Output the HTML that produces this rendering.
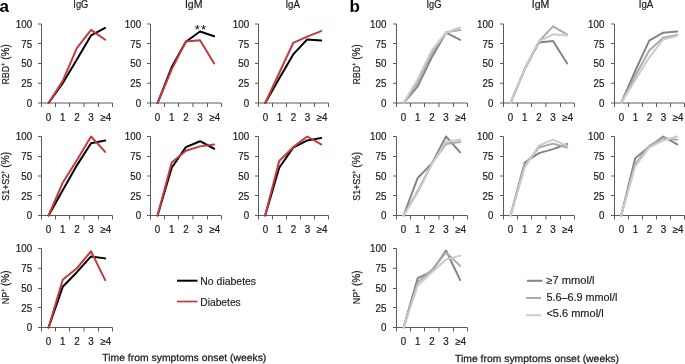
<!DOCTYPE html>
<html><head><meta charset="utf-8"><style>
html,body{margin:0;padding:0;background:#fff;width:685px;height:364px;overflow:hidden;position:relative}
svg{display:block;position:absolute;left:0;top:0}
#t{filter:grayscale(1)}
</style></head><body>
<svg id="l" width="685" height="364" viewBox="0 0 685 364"><g stroke="#5a5a5a" stroke-width="1" fill="none"><path d="M41.5 24.0V107.0" /><path d="M38.0 24.0H41.5" /><path d="M38.0 43.5H41.5" /><path d="M38.0 63.5H41.5" /><path d="M38.0 83.25H41.5" /><path d="M38.0 103.0H112.25" /><path d="M55.5 103.0V107.0" /><path d="M69.5 103.0V107.0" /><path d="M83.95 103.0V107.0" /><path d="M98.5 103.0V107.0" /><path d="M112.5 103.0V107.0" /><path d="M150.5 24.0V107.0" /><path d="M147.0 24.0H150.5" /><path d="M147.0 43.5H150.5" /><path d="M147.0 63.5H150.5" /><path d="M147.0 83.25H150.5" /><path d="M147.0 103.0H221.25" /><path d="M164.5 103.0V107.0" /><path d="M178.5 103.0V107.0" /><path d="M192.95 103.0V107.0" /><path d="M207.5 103.0V107.0" /><path d="M221.5 103.0V107.0" /><path d="M258.5 24.0V107.0" /><path d="M255.0 24.0H258.5" /><path d="M255.0 43.5H258.5" /><path d="M255.0 63.5H258.5" /><path d="M255.0 83.25H258.5" /><path d="M255.0 103.0H328.5" /><path d="M272.5 103.0V107.0" /><path d="M286.5 103.0V107.0" /><path d="M300.5 103.0V107.0" /><path d="M314.5 103.0V107.0" /><path d="M328.5 103.0V107.0" /><path d="M41.5 136.5V219.5" /><path d="M38.0 136.5H41.5" /><path d="M38.0 156.5H41.5" /><path d="M38.0 176.0H41.5" /><path d="M38.0 195.5H41.5" /><path d="M38.0 215.5H112.25" /><path d="M55.5 215.5V219.5" /><path d="M69.5 215.5V219.5" /><path d="M83.95 215.5V219.5" /><path d="M98.5 215.5V219.5" /><path d="M112.5 215.5V219.5" /><path d="M150.5 136.5V219.5" /><path d="M147.0 136.5H150.5" /><path d="M147.0 156.5H150.5" /><path d="M147.0 176.0H150.5" /><path d="M147.0 195.5H150.5" /><path d="M147.0 215.5H221.25" /><path d="M164.5 215.5V219.5" /><path d="M178.5 215.5V219.5" /><path d="M192.95 215.5V219.5" /><path d="M207.5 215.5V219.5" /><path d="M221.5 215.5V219.5" /><path d="M258.5 136.5V219.5" /><path d="M255.0 136.5H258.5" /><path d="M255.0 156.5H258.5" /><path d="M255.0 176.0H258.5" /><path d="M255.0 195.5H258.5" /><path d="M255.0 215.5H328.5" /><path d="M272.5 215.5V219.5" /><path d="M286.5 215.5V219.5" /><path d="M300.5 215.5V219.5" /><path d="M314.5 215.5V219.5" /><path d="M328.5 215.5V219.5" /><path d="M41.5 248.5V331.5" /><path d="M38.0 248.5H41.5" /><path d="M38.0 268.25H41.5" /><path d="M38.0 288.5H41.5" /><path d="M38.0 307.5H41.5" /><path d="M38.0 327.5H112.25" /><path d="M55.5 327.5V331.5" /><path d="M69.5 327.5V331.5" /><path d="M83.95 327.5V331.5" /><path d="M98.5 327.5V331.5" /><path d="M112.5 327.5V331.5" /><path d="M396.5 24.0V107.0" /><path d="M393.0 24.0H396.5" /><path d="M393.0 43.5H396.5" /><path d="M393.0 63.5H396.5" /><path d="M393.0 83.25H396.5" /><path d="M393.0 103.0H467.25" /><path d="M410.5 103.0V107.0" /><path d="M424.5 103.0V107.0" /><path d="M438.95 103.0V107.0" /><path d="M453.5 103.0V107.0" /><path d="M467.5 103.0V107.0" /><path d="M503.5 24.0V107.0" /><path d="M500.0 24.0H503.5" /><path d="M500.0 43.5H503.5" /><path d="M500.0 63.5H503.5" /><path d="M500.0 83.25H503.5" /><path d="M500.0 103.0H574.25" /><path d="M517.5 103.0V107.0" /><path d="M531.5 103.0V107.0" /><path d="M545.95 103.0V107.0" /><path d="M560.5 103.0V107.0" /><path d="M574.5 103.0V107.0" /><path d="M614.5 24.0V107.0" /><path d="M611.0 24.0H614.5" /><path d="M611.0 43.5H614.5" /><path d="M611.0 63.5H614.5" /><path d="M611.0 83.25H614.5" /><path d="M611.0 103.0H684.5" /><path d="M628.5 103.0V107.0" /><path d="M642.5 103.0V107.0" /><path d="M656.5 103.0V107.0" /><path d="M670.5 103.0V107.0" /><path d="M684.5 103.0V107.0" /><path d="M396.5 136.5V219.5" /><path d="M393.0 136.5H396.5" /><path d="M393.0 156.5H396.5" /><path d="M393.0 176.0H396.5" /><path d="M393.0 195.5H396.5" /><path d="M393.0 215.5H467.25" /><path d="M410.5 215.5V219.5" /><path d="M424.5 215.5V219.5" /><path d="M438.95 215.5V219.5" /><path d="M453.5 215.5V219.5" /><path d="M467.5 215.5V219.5" /><path d="M503.5 136.5V219.5" /><path d="M500.0 136.5H503.5" /><path d="M500.0 156.5H503.5" /><path d="M500.0 176.0H503.5" /><path d="M500.0 195.5H503.5" /><path d="M500.0 215.5H574.25" /><path d="M517.5 215.5V219.5" /><path d="M531.5 215.5V219.5" /><path d="M545.95 215.5V219.5" /><path d="M560.5 215.5V219.5" /><path d="M574.5 215.5V219.5" /><path d="M614.5 136.5V219.5" /><path d="M611.0 136.5H614.5" /><path d="M611.0 156.5H614.5" /><path d="M611.0 176.0H614.5" /><path d="M611.0 195.5H614.5" /><path d="M611.0 215.5H684.5" /><path d="M628.5 215.5V219.5" /><path d="M642.5 215.5V219.5" /><path d="M656.5 215.5V219.5" /><path d="M670.5 215.5V219.5" /><path d="M684.5 215.5V219.5" /><path d="M396.5 248.5V331.5" /><path d="M393.0 248.5H396.5" /><path d="M393.0 268.25H396.5" /><path d="M393.0 288.5H396.5" /><path d="M393.0 307.5H396.5" /><path d="M393.0 327.5H467.25" /><path d="M410.5 327.5V331.5" /><path d="M424.5 327.5V331.5" /><path d="M438.95 327.5V331.5" /><path d="M453.5 327.5V331.5" /><path d="M467.5 327.5V331.5" /></g><polyline points="48.58,103.00 62.73,83.25 76.88,59.55 91.03,35.45 105.18,27.95" fill="none" stroke="#000000" stroke-width="2" stroke-linejoin="round" stroke-linecap="round" /><polyline points="48.58,103.00 62.73,80.88 76.88,48.09 91.03,29.92 105.18,39.80" fill="none" stroke="#c43a3e" stroke-width="2" stroke-linejoin="round" stroke-linecap="round" /><polyline points="157.57,103.00 171.72,67.06 185.88,41.77 200.03,31.50 214.18,36.25" fill="none" stroke="#000000" stroke-width="2" stroke-linejoin="round" stroke-linecap="round" /><polyline points="157.57,103.00 171.72,69.42 185.88,41.38 200.03,40.20 214.18,63.50" fill="none" stroke="#c43a3e" stroke-width="2" stroke-linejoin="round" stroke-linecap="round" /><polyline points="265.20,103.00 279.20,78.51 293.20,54.41 307.20,39.41 321.20,40.59" fill="none" stroke="#000000" stroke-width="2" stroke-linejoin="round" stroke-linecap="round" /><polyline points="265.20,103.00 279.20,72.98 293.20,42.96 307.20,36.64 321.20,31.11" fill="none" stroke="#c43a3e" stroke-width="2" stroke-linejoin="round" stroke-linecap="round" /><polyline points="48.58,215.50 62.73,190.22 76.88,165.34 91.03,143.22 105.18,140.45" fill="none" stroke="#000000" stroke-width="2" stroke-linejoin="round" stroke-linecap="round" /><polyline points="48.58,215.50 62.73,182.72 76.88,160.20 91.03,136.50 105.18,151.91" fill="none" stroke="#c43a3e" stroke-width="2" stroke-linejoin="round" stroke-linecap="round" /><polyline points="157.57,215.50 171.72,167.70 185.88,147.17 200.03,141.24 214.18,148.75" fill="none" stroke="#000000" stroke-width="2" stroke-linejoin="round" stroke-linecap="round" /><polyline points="157.57,215.50 171.72,162.57 185.88,150.72 200.03,146.38 214.18,144.40" fill="none" stroke="#c43a3e" stroke-width="2" stroke-linejoin="round" stroke-linecap="round" /><polyline points="265.20,215.50 279.20,167.70 293.20,147.56 307.20,140.45 321.20,138.08" fill="none" stroke="#000000" stroke-width="2" stroke-linejoin="round" stroke-linecap="round" /><polyline points="265.20,215.50 279.20,160.99 293.20,147.17 307.20,136.50 321.20,144.40" fill="none" stroke="#c43a3e" stroke-width="2" stroke-linejoin="round" stroke-linecap="round" /><polyline points="48.58,327.50 62.73,286.81 76.88,272.20 91.03,256.40 105.18,258.38" fill="none" stroke="#000000" stroke-width="2" stroke-linejoin="round" stroke-linecap="round" /><polyline points="48.58,327.50 62.73,279.70 76.88,268.25 91.03,251.26 105.18,280.10" fill="none" stroke="#c43a3e" stroke-width="2" stroke-linejoin="round" stroke-linecap="round" /><polyline points="403.57,103.00 417.73,86.41 431.88,57.18 446.02,32.69 460.18,39.80" fill="none" stroke="#848484" stroke-width="2" stroke-linejoin="round" stroke-linecap="round" /><polyline points="403.57,103.00 417.73,82.46 431.88,53.23 446.02,32.30 460.18,29.92" fill="none" stroke="#aaaaaa" stroke-width="2" stroke-linejoin="round" stroke-linecap="round" /><polyline points="403.57,103.00 417.73,79.30 431.88,50.07 446.02,32.69 460.18,27.56" fill="none" stroke="#cbcbcb" stroke-width="2" stroke-linejoin="round" stroke-linecap="round" /><polyline points="510.57,103.00 524.73,69.03 538.88,42.56 553.02,40.98 567.17,63.50" fill="none" stroke="#848484" stroke-width="2" stroke-linejoin="round" stroke-linecap="round" /><polyline points="510.57,103.00 524.73,69.03 538.88,41.38 553.02,26.37 567.17,34.67" fill="none" stroke="#aaaaaa" stroke-width="2" stroke-linejoin="round" stroke-linecap="round" /><polyline points="510.57,103.00 524.73,68.63 538.88,41.38 553.02,34.27 567.17,35.45" fill="none" stroke="#cbcbcb" stroke-width="2" stroke-linejoin="round" stroke-linecap="round" /><polyline points="621.20,103.00 635.20,71.00 649.20,40.59 663.20,32.69 677.20,31.50" fill="none" stroke="#848484" stroke-width="2" stroke-linejoin="round" stroke-linecap="round" /><polyline points="621.20,103.00 635.20,76.14 649.20,50.47 663.20,37.83 677.20,35.06" fill="none" stroke="#aaaaaa" stroke-width="2" stroke-linejoin="round" stroke-linecap="round" /><polyline points="621.20,103.00 635.20,80.09 649.20,57.58 663.20,39.41 677.20,35.85" fill="none" stroke="#cbcbcb" stroke-width="2" stroke-linejoin="round" stroke-linecap="round" /><polyline points="403.57,215.50 417.73,177.97 431.88,163.36 446.02,136.50 460.18,152.30" fill="none" stroke="#848484" stroke-width="2" stroke-linejoin="round" stroke-linecap="round" /><polyline points="403.57,215.50 417.73,191.01 431.88,163.36 446.02,144.00 460.18,142.03" fill="none" stroke="#aaaaaa" stroke-width="2" stroke-linejoin="round" stroke-linecap="round" /><polyline points="403.57,215.50 417.73,192.59 431.88,164.15 446.02,141.63 460.18,139.66" fill="none" stroke="#cbcbcb" stroke-width="2" stroke-linejoin="round" stroke-linecap="round" /><polyline points="510.57,215.50 524.73,162.57 538.88,153.09 553.02,149.14 567.17,144.00" fill="none" stroke="#848484" stroke-width="2" stroke-linejoin="round" stroke-linecap="round" /><polyline points="510.57,215.50 524.73,164.94 538.88,147.56 553.02,143.61 567.17,147.56" fill="none" stroke="#aaaaaa" stroke-width="2" stroke-linejoin="round" stroke-linecap="round" /><polyline points="510.57,215.50 524.73,167.70 538.88,145.58 553.02,139.66 567.17,145.98" fill="none" stroke="#cbcbcb" stroke-width="2" stroke-linejoin="round" stroke-linecap="round" /><polyline points="621.20,215.50 635.20,158.22 649.20,146.77 663.20,136.50 677.20,144.40" fill="none" stroke="#848484" stroke-width="2" stroke-linejoin="round" stroke-linecap="round" /><polyline points="621.20,215.50 635.20,164.15 649.20,145.98 663.20,138.08 677.20,139.66" fill="none" stroke="#aaaaaa" stroke-width="2" stroke-linejoin="round" stroke-linecap="round" /><polyline points="621.20,215.50 635.20,166.12 649.20,147.56 663.20,140.45 677.20,136.50" fill="none" stroke="#cbcbcb" stroke-width="2" stroke-linejoin="round" stroke-linecap="round" /><polyline points="403.57,327.50 417.73,278.12 431.88,271.41 446.02,250.47 460.18,280.10" fill="none" stroke="#848484" stroke-width="2" stroke-linejoin="round" stroke-linecap="round" /><polyline points="403.57,327.50 417.73,282.47 431.88,269.83 446.02,252.45 460.18,265.88" fill="none" stroke="#aaaaaa" stroke-width="2" stroke-linejoin="round" stroke-linecap="round" /><polyline points="403.57,327.50 417.73,285.63 431.88,272.20 446.02,259.56 460.18,255.61" fill="none" stroke="#cbcbcb" stroke-width="2" stroke-linejoin="round" stroke-linecap="round" /><path d="M177 280.7H197.5" stroke="#000" stroke-width="2"/><path d="M177 301.5H197.5" stroke="#c43a3e" stroke-width="1.75"/><path d="M527 280.8H542.5" stroke="#848484" stroke-width="2"/><path d="M526 298H541" stroke="#aaaaaa" stroke-width="2"/><path d="M526 315.2H541" stroke="#cbcbcb" stroke-width="2"/></svg>
<svg id="t" width="685" height="364" viewBox="0 0 685 364"><g font-family='"Liberation Sans", sans-serif' font-size="10.2" fill="#1a1a1a" stroke="#1a1a1a" stroke-width="0.2"><text transform="translate(32.10 27.90) scale(0.96 1)" text-anchor="end">100</text><text transform="translate(32.10 47.65) scale(0.96 1)" text-anchor="end">75</text><text transform="translate(32.10 67.40) scale(0.96 1)" text-anchor="end">50</text><text transform="translate(32.10 87.15) scale(0.96 1)" text-anchor="end">25</text><text transform="translate(32.10 106.90) scale(0.96 1)" text-anchor="end">0</text><text transform="translate(48.58 120.60) scale(0.96 1)" text-anchor="middle">0</text><text transform="translate(62.73 120.60) scale(0.96 1)" text-anchor="middle">1</text><text transform="translate(76.88 120.60) scale(0.96 1)" text-anchor="middle">2</text><text transform="translate(91.03 120.60) scale(0.96 1)" text-anchor="middle">3</text><text transform="translate(105.78 120.60) scale(0.96 1)" text-anchor="middle">≥4</text><text transform="translate(141.10 27.90) scale(0.96 1)" text-anchor="end">100</text><text transform="translate(141.10 47.65) scale(0.96 1)" text-anchor="end">75</text><text transform="translate(141.10 67.40) scale(0.96 1)" text-anchor="end">50</text><text transform="translate(141.10 87.15) scale(0.96 1)" text-anchor="end">25</text><text transform="translate(141.10 106.90) scale(0.96 1)" text-anchor="end">0</text><text transform="translate(157.57 120.60) scale(0.96 1)" text-anchor="middle">0</text><text transform="translate(171.72 120.60) scale(0.96 1)" text-anchor="middle">1</text><text transform="translate(185.88 120.60) scale(0.96 1)" text-anchor="middle">2</text><text transform="translate(200.03 120.60) scale(0.96 1)" text-anchor="middle">3</text><text transform="translate(214.78 120.60) scale(0.96 1)" text-anchor="middle">≥4</text><text transform="translate(249.10 27.90) scale(0.96 1)" text-anchor="end">100</text><text transform="translate(249.10 47.65) scale(0.96 1)" text-anchor="end">75</text><text transform="translate(249.10 67.40) scale(0.96 1)" text-anchor="end">50</text><text transform="translate(249.10 87.15) scale(0.96 1)" text-anchor="end">25</text><text transform="translate(249.10 106.90) scale(0.96 1)" text-anchor="end">0</text><text transform="translate(265.50 120.60) scale(0.96 1)" text-anchor="middle">0</text><text transform="translate(279.50 120.60) scale(0.96 1)" text-anchor="middle">1</text><text transform="translate(293.50 120.60) scale(0.96 1)" text-anchor="middle">2</text><text transform="translate(307.50 120.60) scale(0.96 1)" text-anchor="middle">3</text><text transform="translate(322.10 120.60) scale(0.96 1)" text-anchor="middle">≥4</text><text transform="translate(32.10 140.40) scale(0.96 1)" text-anchor="end">100</text><text transform="translate(32.10 160.15) scale(0.96 1)" text-anchor="end">75</text><text transform="translate(32.10 179.90) scale(0.96 1)" text-anchor="end">50</text><text transform="translate(32.10 199.65) scale(0.96 1)" text-anchor="end">25</text><text transform="translate(32.10 219.40) scale(0.96 1)" text-anchor="end">0</text><text transform="translate(48.58 233.10) scale(0.96 1)" text-anchor="middle">0</text><text transform="translate(62.73 233.10) scale(0.96 1)" text-anchor="middle">1</text><text transform="translate(76.88 233.10) scale(0.96 1)" text-anchor="middle">2</text><text transform="translate(91.03 233.10) scale(0.96 1)" text-anchor="middle">3</text><text transform="translate(105.78 233.10) scale(0.96 1)" text-anchor="middle">≥4</text><text transform="translate(141.10 140.40) scale(0.96 1)" text-anchor="end">100</text><text transform="translate(141.10 160.15) scale(0.96 1)" text-anchor="end">75</text><text transform="translate(141.10 179.90) scale(0.96 1)" text-anchor="end">50</text><text transform="translate(141.10 199.65) scale(0.96 1)" text-anchor="end">25</text><text transform="translate(141.10 219.40) scale(0.96 1)" text-anchor="end">0</text><text transform="translate(157.57 233.10) scale(0.96 1)" text-anchor="middle">0</text><text transform="translate(171.72 233.10) scale(0.96 1)" text-anchor="middle">1</text><text transform="translate(185.88 233.10) scale(0.96 1)" text-anchor="middle">2</text><text transform="translate(200.03 233.10) scale(0.96 1)" text-anchor="middle">3</text><text transform="translate(214.78 233.10) scale(0.96 1)" text-anchor="middle">≥4</text><text transform="translate(249.10 140.40) scale(0.96 1)" text-anchor="end">100</text><text transform="translate(249.10 160.15) scale(0.96 1)" text-anchor="end">75</text><text transform="translate(249.10 179.90) scale(0.96 1)" text-anchor="end">50</text><text transform="translate(249.10 199.65) scale(0.96 1)" text-anchor="end">25</text><text transform="translate(249.10 219.40) scale(0.96 1)" text-anchor="end">0</text><text transform="translate(265.50 233.10) scale(0.96 1)" text-anchor="middle">0</text><text transform="translate(279.50 233.10) scale(0.96 1)" text-anchor="middle">1</text><text transform="translate(293.50 233.10) scale(0.96 1)" text-anchor="middle">2</text><text transform="translate(307.50 233.10) scale(0.96 1)" text-anchor="middle">3</text><text transform="translate(322.10 233.10) scale(0.96 1)" text-anchor="middle">≥4</text><text transform="translate(32.10 252.40) scale(0.96 1)" text-anchor="end">100</text><text transform="translate(32.10 272.15) scale(0.96 1)" text-anchor="end">75</text><text transform="translate(32.10 291.90) scale(0.96 1)" text-anchor="end">50</text><text transform="translate(32.10 311.65) scale(0.96 1)" text-anchor="end">25</text><text transform="translate(32.10 331.40) scale(0.96 1)" text-anchor="end">0</text><text transform="translate(48.58 345.10) scale(0.96 1)" text-anchor="middle">0</text><text transform="translate(62.73 345.10) scale(0.96 1)" text-anchor="middle">1</text><text transform="translate(76.88 345.10) scale(0.96 1)" text-anchor="middle">2</text><text transform="translate(91.03 345.10) scale(0.96 1)" text-anchor="middle">3</text><text transform="translate(105.78 345.10) scale(0.96 1)" text-anchor="middle">≥4</text><text transform="translate(386.40 27.90) scale(0.96 1)" text-anchor="end">100</text><text transform="translate(386.40 47.65) scale(0.96 1)" text-anchor="end">75</text><text transform="translate(386.40 67.40) scale(0.96 1)" text-anchor="end">50</text><text transform="translate(386.40 87.15) scale(0.96 1)" text-anchor="end">25</text><text transform="translate(386.40 106.90) scale(0.96 1)" text-anchor="end">0</text><text transform="translate(403.57 120.60) scale(0.96 1)" text-anchor="middle">0</text><text transform="translate(417.73 120.60) scale(0.96 1)" text-anchor="middle">1</text><text transform="translate(431.88 120.60) scale(0.96 1)" text-anchor="middle">2</text><text transform="translate(446.02 120.60) scale(0.96 1)" text-anchor="middle">3</text><text transform="translate(460.78 120.60) scale(0.96 1)" text-anchor="middle">≥4</text><text transform="translate(493.40 27.90) scale(0.96 1)" text-anchor="end">100</text><text transform="translate(493.40 47.65) scale(0.96 1)" text-anchor="end">75</text><text transform="translate(493.40 67.40) scale(0.96 1)" text-anchor="end">50</text><text transform="translate(493.40 87.15) scale(0.96 1)" text-anchor="end">25</text><text transform="translate(493.40 106.90) scale(0.96 1)" text-anchor="end">0</text><text transform="translate(510.57 120.60) scale(0.96 1)" text-anchor="middle">0</text><text transform="translate(524.73 120.60) scale(0.96 1)" text-anchor="middle">1</text><text transform="translate(538.88 120.60) scale(0.96 1)" text-anchor="middle">2</text><text transform="translate(553.02 120.60) scale(0.96 1)" text-anchor="middle">3</text><text transform="translate(567.77 120.60) scale(0.96 1)" text-anchor="middle">≥4</text><text transform="translate(604.40 27.90) scale(0.96 1)" text-anchor="end">100</text><text transform="translate(604.40 47.65) scale(0.96 1)" text-anchor="end">75</text><text transform="translate(604.40 67.40) scale(0.96 1)" text-anchor="end">50</text><text transform="translate(604.40 87.15) scale(0.96 1)" text-anchor="end">25</text><text transform="translate(604.40 106.90) scale(0.96 1)" text-anchor="end">0</text><text transform="translate(621.50 120.60) scale(0.96 1)" text-anchor="middle">0</text><text transform="translate(635.50 120.60) scale(0.96 1)" text-anchor="middle">1</text><text transform="translate(649.50 120.60) scale(0.96 1)" text-anchor="middle">2</text><text transform="translate(663.50 120.60) scale(0.96 1)" text-anchor="middle">3</text><text transform="translate(678.10 120.60) scale(0.96 1)" text-anchor="middle">≥4</text><text transform="translate(386.40 140.40) scale(0.96 1)" text-anchor="end">100</text><text transform="translate(386.40 160.15) scale(0.96 1)" text-anchor="end">75</text><text transform="translate(386.40 179.90) scale(0.96 1)" text-anchor="end">50</text><text transform="translate(386.40 199.65) scale(0.96 1)" text-anchor="end">25</text><text transform="translate(386.40 219.40) scale(0.96 1)" text-anchor="end">0</text><text transform="translate(403.57 233.10) scale(0.96 1)" text-anchor="middle">0</text><text transform="translate(417.73 233.10) scale(0.96 1)" text-anchor="middle">1</text><text transform="translate(431.88 233.10) scale(0.96 1)" text-anchor="middle">2</text><text transform="translate(446.02 233.10) scale(0.96 1)" text-anchor="middle">3</text><text transform="translate(460.78 233.10) scale(0.96 1)" text-anchor="middle">≥4</text><text transform="translate(493.40 140.40) scale(0.96 1)" text-anchor="end">100</text><text transform="translate(493.40 160.15) scale(0.96 1)" text-anchor="end">75</text><text transform="translate(493.40 179.90) scale(0.96 1)" text-anchor="end">50</text><text transform="translate(493.40 199.65) scale(0.96 1)" text-anchor="end">25</text><text transform="translate(493.40 219.40) scale(0.96 1)" text-anchor="end">0</text><text transform="translate(510.57 233.10) scale(0.96 1)" text-anchor="middle">0</text><text transform="translate(524.73 233.10) scale(0.96 1)" text-anchor="middle">1</text><text transform="translate(538.88 233.10) scale(0.96 1)" text-anchor="middle">2</text><text transform="translate(553.02 233.10) scale(0.96 1)" text-anchor="middle">3</text><text transform="translate(567.77 233.10) scale(0.96 1)" text-anchor="middle">≥4</text><text transform="translate(604.40 140.40) scale(0.96 1)" text-anchor="end">100</text><text transform="translate(604.40 160.15) scale(0.96 1)" text-anchor="end">75</text><text transform="translate(604.40 179.90) scale(0.96 1)" text-anchor="end">50</text><text transform="translate(604.40 199.65) scale(0.96 1)" text-anchor="end">25</text><text transform="translate(604.40 219.40) scale(0.96 1)" text-anchor="end">0</text><text transform="translate(621.50 233.10) scale(0.96 1)" text-anchor="middle">0</text><text transform="translate(635.50 233.10) scale(0.96 1)" text-anchor="middle">1</text><text transform="translate(649.50 233.10) scale(0.96 1)" text-anchor="middle">2</text><text transform="translate(663.50 233.10) scale(0.96 1)" text-anchor="middle">3</text><text transform="translate(678.10 233.10) scale(0.96 1)" text-anchor="middle">≥4</text><text transform="translate(386.40 252.40) scale(0.96 1)" text-anchor="end">100</text><text transform="translate(386.40 272.15) scale(0.96 1)" text-anchor="end">75</text><text transform="translate(386.40 291.90) scale(0.96 1)" text-anchor="end">50</text><text transform="translate(386.40 311.65) scale(0.96 1)" text-anchor="end">25</text><text transform="translate(386.40 331.40) scale(0.96 1)" text-anchor="end">0</text><text transform="translate(403.57 345.10) scale(0.96 1)" text-anchor="middle">0</text><text transform="translate(417.73 345.10) scale(0.96 1)" text-anchor="middle">1</text><text transform="translate(431.88 345.10) scale(0.96 1)" text-anchor="middle">2</text><text transform="translate(446.02 345.10) scale(0.96 1)" text-anchor="middle">3</text><text transform="translate(460.78 345.10) scale(0.96 1)" text-anchor="middle">≥4</text></g><g font-family='"Liberation Sans", sans-serif' font-size="10" fill="#1a1a1a" stroke="#1a1a1a" stroke-width="0.2"><text x="80.85" y="7.6" text-anchor="middle" font-size="10" textLength="15.0" lengthAdjust="spacingAndGlyphs">IgG</text><text x="193.65" y="7.6" text-anchor="middle" font-size="10" textLength="17.5" lengthAdjust="spacingAndGlyphs">IgM</text><text x="292.7" y="7.6" text-anchor="middle" font-size="10" textLength="14.5" lengthAdjust="spacingAndGlyphs">IgA</text><text x="433.9" y="7.6" text-anchor="middle" font-size="10" textLength="15.0" lengthAdjust="spacingAndGlyphs">IgG</text><text x="540.5" y="7.6" text-anchor="middle" font-size="10" textLength="17.5" lengthAdjust="spacingAndGlyphs">IgM</text><text x="646.05" y="7.6" text-anchor="middle" font-size="10" textLength="14.5" lengthAdjust="spacingAndGlyphs">IgA</text><text font-size="10" text-rendering="geometricPrecision" transform="translate(8.8 64.40) rotate(-90)" text-anchor="middle" textLength="40.4" lengthAdjust="spacingAndGlyphs">RBD<tspan font-size="6" dy="-3.6">+</tspan><tspan dy="3.6" font-size="11.3"> (%)</tspan></text><text font-size="10" text-rendering="geometricPrecision" transform="translate(8.8 176.40) rotate(-90)" text-anchor="middle" textLength="48.9" lengthAdjust="spacingAndGlyphs">S1+S2<tspan font-size="6" dy="-3.6">+</tspan><tspan dy="3.6" font-size="11.3"> (%)</tspan></text><text font-size="10" text-rendering="geometricPrecision" transform="translate(8.8 287.30) rotate(-90)" text-anchor="middle" textLength="33.8" lengthAdjust="spacingAndGlyphs">NP<tspan font-size="6" dy="-3.6">+</tspan><tspan dy="3.6" font-size="11.3"> (%)</tspan></text><text font-size="10" text-rendering="geometricPrecision" transform="translate(359.8 64.40) rotate(-90)" text-anchor="middle" textLength="40.4" lengthAdjust="spacingAndGlyphs">RBD<tspan font-size="6" dy="-3.6">+</tspan><tspan dy="3.6" font-size="11.3"> (%)</tspan></text><text font-size="10" text-rendering="geometricPrecision" transform="translate(359.8 176.40) rotate(-90)" text-anchor="middle" textLength="48.9" lengthAdjust="spacingAndGlyphs">S1+S2<tspan font-size="6" dy="-3.6">+</tspan><tspan dy="3.6" font-size="11.3"> (%)</tspan></text><text font-size="10" text-rendering="geometricPrecision" transform="translate(359.8 287.30) rotate(-90)" text-anchor="middle" textLength="33.8" lengthAdjust="spacingAndGlyphs">NP<tspan font-size="6" dy="-3.6">+</tspan><tspan dy="3.6" font-size="11.3"> (%)</tspan></text><text font-size="10.2" stroke-width="0.25" text-rendering="geometricPrecision" x="102.3" y="361.0" textLength="164" lengthAdjust="spacingAndGlyphs">Time from symptoms onset (weeks)</text><text font-size="10.2" stroke-width="0.25" text-rendering="geometricPrecision" x="455" y="361.7" textLength="164" lengthAdjust="spacingAndGlyphs">Time from symptoms onset (weeks)</text><text x="200.3" y="284.9" font-size="10.3" stroke-width="0.15" lengthAdjust="spacingAndGlyphs" textLength="55.8">No diabetes</text><text x="200.3" y="305.7" font-size="10.3" stroke-width="0.15" lengthAdjust="spacingAndGlyphs" textLength="40.4">Diabetes</text><text x="546.4" y="283.6" font-size="10.3" stroke-width="0.15" lengthAdjust="spacingAndGlyphs" textLength="48.2">≥7 mmol/l</text><text x="546.4" y="300.7" font-size="10.3" stroke-width="0.15" lengthAdjust="spacingAndGlyphs" textLength="71">5.6–6.9 mmol/l</text><text x="546.4" y="317.4" font-size="10.3" stroke-width="0.15" lengthAdjust="spacingAndGlyphs" textLength="57.2">&lt;5.6 mmol/l</text></g><text x="-0.6" y="11.9" font-family='"Liberation Sans", sans-serif' font-weight="bold" font-size="17" fill="#000">a</text><text x="349.5" y="11.9" font-family='"Liberation Sans", sans-serif' font-weight="bold" font-size="17" fill="#000">b</text><text x="200.9" y="34.1" font-family='"Liberation Sans", sans-serif' font-size="13" letter-spacing="1.2" text-anchor="middle" fill="#000">**</text></svg>
</body></html>
